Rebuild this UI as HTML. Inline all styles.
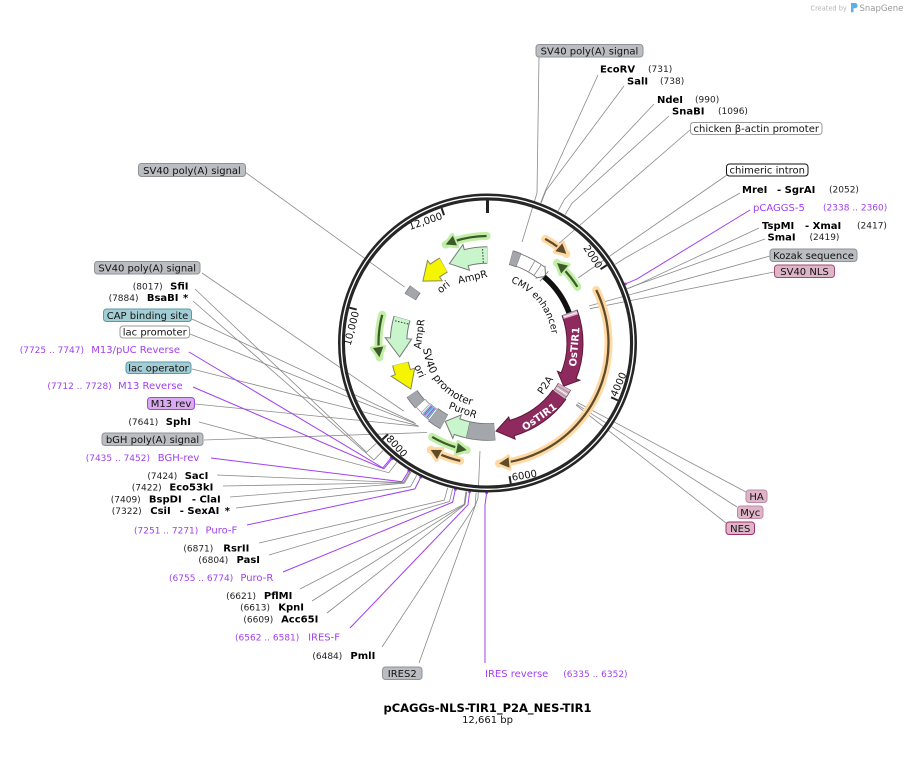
<!DOCTYPE html>
<html><head><meta charset="utf-8">
<style>
html,body{margin:0;padding:0;background:#fff;}
svg{display:block;font-family:"DejaVu Sans","Liberation Sans",sans-serif;}
.n{font-size:9px;fill:#222;}
.b{font-size:10px;font-weight:bold;fill:#000;}
.p{font-size:10px;fill:#a040f0;}
.pn{font-size:9px;fill:#a040f0;}
.l{font-size:10px;fill:#111;}
.t{font-size:10px;fill:#111;}
.ln{stroke:#8a8a8a;stroke-width:0.8;fill:none;}
.lp{stroke:#a040f0;stroke-width:1;fill:none;}
.arc circle{fill:none;}
</style></head><body>
<svg width="908" height="757" viewBox="0 0 908 757">
<defs>
<path id="cmvp" d="M510.79,282.32 A65,65 0 0,1 548.58,365.23"/>
<path id="sv40p" d="M423.2,348.6 A64,64 0 0,0 509.4,403.1"/>
</defs>

<!-- Created by SnapGene -->
<text x="810.5" y="10.5" font-size="6.6" fill="#b4b4b4">Created by</text>
<path d="M851,3 h4 a2.6,2.6 0 0 1 0,5.2 h-1.5 v4 h-2.5 z" fill="#5ab0e8"/>
<text x="859.5" y="11" font-size="8.5" fill="#9a9a9a">SnapGene</text>

<!-- leader lines -->
<g class="ln">
<polyline points="539,57 537,193 522,242"/>
<polyline points="598,75 545.4,190.6 540.7,202.8"/>
<polyline points="624,86 545.9,190.8 541.2,202.9"/>
<polyline points="654,104 564.4,199.3 558.3,210.7"/>
<polyline points="669,116 571.8,203.5 565.1,214.6"/>
<polyline points="690,130 557,245"/>
<polyline points="727,175 578,278"/>
<polyline points="740,193 626.2,257.4 615.2,264.3"/>
<polyline points="759,228 639.4,283.8 627.3,288.6"/>
<polyline points="765,239 639.5,284 627.4,288.7"/>
<polyline points="770,256 589,306"/>
<polyline points="774,272 590,308.7"/>
<polyline points="746,492 577.6,402.6"/>
<polyline points="737,507 576.5,404.2"/>
<polyline points="726,523 576,405"/>
<polyline points="245,172 404.6,287.1"/>
<polyline points="202,273 403.6,411"/>
<polyline points="195,289 366.5,452.2 376.1,443.5"/>
<polyline points="193,301 373.9,459.9 383,450.6"/>
<polyline points="192,319 414.5,422.6"/>
<polyline points="190,334 415.9,423.9"/>
<polyline points="192,369 418.1,425.7"/>
<polyline points="195,404 418.8,426.3"/>
<polyline points="199,422 388.8,472.7 396.7,462.4"/>
<polyline points="204,440 427.1,432.5"/>
<polyline points="217,475 403.3,482.6 410,471.4"/>
<polyline points="223,486 403.5,482.7 410.2,471.5"/>
<polyline points="230,497 404.4,483.2 411,472"/>
<polyline points="236,508 410.5,486.7 416.7,475.2"/>
<polyline points="259,543 444.3,500.2 447.7,487.6"/>
<polyline points="269,555 449.5,501.5 452.6,488.9"/>
<polyline points="300,589 464.1,504.3 465.9,491.4"/>
<polyline points="312,601 464.7,504.4 466.5,491.5"/>
<polyline points="327,613 465,504.5 466.8,491.6"/>
<polyline points="382,647 475.1,505.5 476.1,492.6"/>
<polyline points="419,663 478,498 480,451"/>
</g>
<g class="lp">
<polyline points="750,210 637.3,278.8 625.4,283.9"/>
<polyline points="189,352 382.8,467.9 391.1,458"/>
<polyline points="193,387 383.8,468.8 392.1,458.7"/>
<polyline points="211,458 402,481.8 408.8,470.7"/>
<polyline points="247,525 414.9,488.9 420.7,477.3"/>
<polyline points="283,572 452.6,502.2 455.4,489.5"/>
<polyline points="350,628 468,504.8 469.6,491.9"/>
<polyline points="485,663 485,505 486.6,493"/>
</g>
<g fill="#a040f0">
<circle cx="625.4" cy="283.9" r="1.4"/><circle cx="391.1" cy="458" r="1.4"/><circle cx="392.1" cy="458.7" r="1.4"/>
<circle cx="408.8" cy="470.7" r="1.4"/><circle cx="420.7" cy="477.3" r="1.4"/><circle cx="455.4" cy="489.5" r="1.4"/>
<circle cx="469.6" cy="491.9" r="1.4"/><circle cx="486.6" cy="493" r="1.4"/>
</g>

<!-- ring -->
<circle cx="487.5" cy="343" r="146" fill="none" stroke="#262626" stroke-width="7"/>
<circle cx="487.5" cy="343" r="146.3" fill="none" stroke="#fff" stroke-width="1.3"/>

<!-- ticks -->
<g transform="translate(487.5,343)">
<line x1="0" y1="-143" x2="0" y2="-130" stroke="#222" stroke-width="3"/>
<g transform="rotate(56.87)"><line x1="0" y1="-142.5" x2="0" y2="-135" stroke="#222" stroke-width="2"/><text class="t" x="-2" y="-132" text-anchor="end">2000</text></g>
<g transform="rotate(113.74)"><line x1="0" y1="-142.5" x2="0" y2="-135" stroke="#222" stroke-width="2"/><text class="t" transform="rotate(180)" x="2" y="140" text-anchor="start">4000</text></g>
<g transform="rotate(170.6)"><line x1="0" y1="-142.5" x2="0" y2="-135" stroke="#222" stroke-width="2"/><text class="t" transform="rotate(180)" x="2" y="140" text-anchor="start">6000</text></g>
<g transform="rotate(227.47)"><line x1="0" y1="-142.5" x2="0" y2="-135" stroke="#222" stroke-width="2"/><text class="t" transform="rotate(180)" x="2" y="140" text-anchor="start">8000</text></g>
<g transform="rotate(284.34)"><line x1="0" y1="-142.5" x2="0" y2="-135" stroke="#222" stroke-width="2"/><text class="t" x="-2" y="-132" text-anchor="end">10,000</text></g>
<g transform="rotate(341.21)"><line x1="0" y1="-142.5" x2="0" y2="-135" stroke="#222" stroke-width="2"/><text class="t" x="-2" y="-132" text-anchor="end">12,000</text></g>
</g>

<!-- features -->
<g class="arc" transform="translate(487.5,343)">
<!-- orange / green ORF arrows -->
<circle r="119" stroke="#ffd9a3" stroke-width="8" stroke-linecap="round" stroke-dasharray="25.96 2000" transform="rotate(-61)"/>
<circle r="119" stroke="#5e4b2c" stroke-width="2.3" stroke-dasharray="17.65 2000" transform="rotate(-61)"/>
<g transform="rotate(41.5)"><polygon points="1.5,-119 -10,-112.5 -10,-125.5" fill="#ffd9a3" stroke="#ffd9a3" stroke-width="3.5" stroke-linejoin="round"/><polygon points="0,-119 -10,-113.8 -10,-124.2" fill="#5e4b2c"/></g>

<circle r="121" stroke="#ffd9a3" stroke-width="8" stroke-linecap="round" stroke-dasharray="233.36 2000" transform="rotate(-26)"/>
<circle r="121" stroke="#5e4b2c" stroke-width="2.3" stroke-dasharray="224.91 2000" transform="rotate(-26)"/>
<g transform="rotate(174.5)"><polygon points="1.5,-121 -10,-114.5 -10,-127.5" fill="#ffd9a3" stroke="#ffd9a3" stroke-width="3.5" stroke-linejoin="round"/><polygon points="0,-121 -10,-115.8 -10,-126.2" fill="#5e4b2c"/></g>

<circle r="121" stroke="#ffd9a3" stroke-width="8" stroke-linecap="round" stroke-dasharray="31.68 2000" transform="rotate(103)"/>
<circle r="121" stroke="#5e4b2c" stroke-width="2.3" stroke-dasharray="23.23 2000" transform="rotate(103)"/>
<g transform="rotate(208)"><polygon points="1.5,-121 -10,-114.5 -10,-127.5" fill="#ffd9a3" stroke="#ffd9a3" stroke-width="3.5" stroke-linejoin="round"/><polygon points="0,-121 -10,-115.8 -10,-126.2" fill="#5e4b2c"/></g>

<circle r="106" stroke="#c2efa6" stroke-width="8" stroke-linecap="round" stroke-dasharray="31.45 2000" transform="rotate(-49)"/>
<circle r="106" stroke="#3e5a2c" stroke-width="2.3" stroke-dasharray="24.98 2000" transform="rotate(-45.5)"/>
<g transform="rotate(41)"><polygon points="-1.5,-106 10,-99.5 10,-112.5" fill="#c2efa6" stroke="#c2efa6" stroke-width="3.5" stroke-linejoin="round"/><polygon points="0,-106 10,-100.8 10,-111.2" fill="#3e5a2c"/></g>

<circle r="107" stroke="#c2efa6" stroke-width="8" stroke-linecap="round" stroke-dasharray="42.02 2000" transform="rotate(247)"/>
<circle r="107" stroke="#3e5a2c" stroke-width="2.3" stroke-dasharray="31.93 2000" transform="rotate(252.4)"/>
<g transform="rotate(337)"><polygon points="-1.5,-107 10,-100.5 10,-113.5" fill="#c2efa6" stroke="#c2efa6" stroke-width="3.5" stroke-linejoin="round"/><polygon points="0,-107 10,-101.8 10,-112.2" fill="#3e5a2c"/></g>

<circle r="109" stroke="#c2efa6" stroke-width="8" stroke-linecap="round" stroke-dasharray="42.8 2000" transform="rotate(172.5)"/>
<circle r="109" stroke="#3e5a2c" stroke-width="2.3" stroke-dasharray="32.72 2000" transform="rotate(177.8)"/>
<g transform="rotate(262.5)"><polygon points="-1.5,-109 10,-102.5 10,-115.5" fill="#c2efa6" stroke="#c2efa6" stroke-width="3.5" stroke-linejoin="round"/><polygon points="0,-109 10,-103.8 10,-114.2" fill="#3e5a2c"/></g>

<circle r="109" stroke="#c2efa6" stroke-width="8" stroke-linecap="round" stroke-dasharray="37.1 2000" transform="rotate(101)"/>
<circle r="109" stroke="#3e5a2c" stroke-width="2.3" stroke-dasharray="27.01 2000" transform="rotate(106.3)"/>
<g transform="rotate(191)"><polygon points="-1.5,-109 10,-102.5 10,-115.5" fill="#c2efa6" stroke="#c2efa6" stroke-width="3.5" stroke-linejoin="round"/><polygon points="0,-109 10,-103.8 10,-114.2" fill="#3e5a2c"/></g>

<!-- CMV white arrow -->
<circle r="88.5" stroke="#777" stroke-width="14" stroke-dasharray="25.8 2000" transform="rotate(-69.5)"/>
<g transform="rotate(37)"><polygon points="0,-95.5 6.2,-88.3 0,-81.5" fill="#fff" stroke="#777" stroke-width="1"/></g>
<circle r="88.5" stroke="#fff" stroke-width="12.2" stroke-dasharray="25.64 2000" transform="rotate(-69.3)"/>
<g transform="rotate(30)"><line y1="-82.5" y2="-94.5" stroke="#888" stroke-width="0.8"/></g>
<g transform="rotate(34.5)"><line y1="-82.5" y2="-94.5" stroke="#888" stroke-width="0.8"/></g>
<!-- CMV gray box -->
<circle r="88.5" stroke="#6d7074" stroke-width="15" stroke-dasharray="8.34 2000" transform="rotate(-74.7)"/>
<circle r="88.5" stroke="#a3a7ab" stroke-width="13.5" stroke-dasharray="7.72 2000" transform="rotate(-74.5)"/>
<!-- black arc -->
<circle r="87" stroke="#111" stroke-width="5.5" stroke-dasharray="44.79 2000" transform="rotate(-49.5)"/>
<g transform="rotate(40.3)"><line y1="-81" y2="-94" stroke="#777" stroke-width="0.8"/></g>

<!-- OsTIR1 #1 -->
<circle r="87.5" stroke="#5c1838" stroke-width="17" stroke-dasharray="65.21 2000" transform="rotate(-20.4)"/>
<g transform="rotate(112)"><polygon points="0,-99.5 11.4,-86.8 0,-75.5" fill="#8e2a5e" stroke="#5c1838" stroke-width="1"/></g>
<circle r="87.5" stroke="#8e2a5e" stroke-width="15" stroke-dasharray="65.06 2000" transform="rotate(-20)"/>
<circle r="87.5" stroke="#e0b3c9" stroke-width="15" stroke-dasharray="3.82 2000" transform="rotate(-20)"/>
<g transform="rotate(71.2)"><line y1="-80.5" y2="-94.5" stroke="#fff" stroke-width="0.8"/></g>
<g transform="rotate(69.8)"><line y1="-80" y2="-95" stroke="#888" stroke-width="0.8"/></g>

<!-- OsTIR1 #2 -->
<circle r="88.5" stroke="#5c1838" stroke-width="17" stroke-dasharray="59.78 2000" transform="rotate(35.6)"/>
<g transform="rotate(164)"><polygon points="0,-100 16.1,-87 0,-77" fill="#8e2a5e" stroke="#5c1838" stroke-width="1"/></g>
<circle r="88.5" stroke="#8e2a5e" stroke-width="15" stroke-dasharray="59.62 2000" transform="rotate(36)"/>
<!-- P2A band -->
<circle r="88.5" stroke="#6b4a5a" stroke-width="15" stroke-dasharray="10.04 2000" transform="rotate(29.5)"/>
<circle r="88.5" stroke="#dcb6c8" stroke-width="13.5" stroke-dasharray="9.4 2000" transform="rotate(29.7)"/>
<g transform="rotate(121.5)"><line y1="-82" y2="-95" stroke="#888" stroke-width="0.8"/></g>
<g transform="rotate(123)"><line y1="-82" y2="-95" stroke="#fff" stroke-width="0.8"/></g>
<g transform="rotate(124.5)"><line y1="-82" y2="-95" stroke="#888" stroke-width="0.8"/></g>

<!-- PuroR -->
<circle r="89" stroke="#7a7a7a" stroke-width="17.5" stroke-dasharray="12.12 2000" transform="rotate(102.5)"/>
<g transform="rotate(200)"><polygon points="0,-101.5 12.9,-88.1 0,-76.5" fill="#c8f5cc" stroke="#7a7a7a" stroke-width="1"/></g>
<circle r="89" stroke="#c8f5cc" stroke-width="15.5" stroke-dasharray="12.12 2000" transform="rotate(102.8)"/>
<!-- IRES2 gray -->
<circle r="89" stroke="#6d7074" stroke-width="17.5" stroke-dasharray="27.03 2000" transform="rotate(85.3)"/>
<circle r="89" stroke="#a3a7ab" stroke-width="16" stroke-dasharray="26.41 2000" transform="rotate(85.5)"/>

<!-- SV40 region -->
<circle r="90" stroke="#6d7074" stroke-width="16.5" stroke-dasharray="13.19 2000" transform="rotate(118.8)"/>
<circle r="90" stroke="#a3a7ab" stroke-width="15" stroke-dasharray="12.57 2000" transform="rotate(119)"/>
<circle r="90" stroke="#888" stroke-width="14" stroke-dasharray="10.21 2000" transform="rotate(127)"/>
<circle r="90" stroke="#fff" stroke-width="12.5" stroke-dasharray="9.58 2000" transform="rotate(127.2)"/>
<g stroke-width="1.1">
<line transform="rotate(218.3)" y1="-84" y2="-96" stroke="#3aa0b8"/>
<line transform="rotate(219.2)" y1="-84" y2="-96" stroke="#a040e0"/>
<line transform="rotate(220)" y1="-84" y2="-96" stroke="#70c8d8"/>
<line transform="rotate(220.8)" y1="-84" y2="-96" stroke="#3aa0b8"/>
<line transform="rotate(221.6)" y1="-84" y2="-96" stroke="#a040e0"/>
<line transform="rotate(222.4)" y1="-84" y2="-96" stroke="#70c8d8"/>
</g>
<circle r="90" stroke="#888" stroke-width="12.5" stroke-dasharray="7.07 2000" transform="rotate(133.5)"/>
<circle r="90" stroke="#fff" stroke-width="11" stroke-dasharray="6.5 2000" transform="rotate(133.7)"/>
<circle r="91" stroke="#6d7074" stroke-width="13" stroke-dasharray="13.02 2000" transform="rotate(137.9)"/>
<circle r="91" stroke="#a3a7ab" stroke-width="11.5" stroke-dasharray="12.71 2000" transform="rotate(138)"/>

<!-- ori left -->
<circle r="89.5" stroke="#8a8a5a" stroke-width="17" stroke-dasharray="9.37 2000" transform="rotate(160.7)"/>
<g transform="rotate(251)"><polygon points="0,-102 -18.6,-87.5 0,-77" fill="#f5f500" stroke="#8a8a5a" stroke-width="1"/></g>
<circle r="89.5" stroke="#f5f500" stroke-width="15" stroke-dasharray="9.53 2000" transform="rotate(160.4)"/>

<!-- AmpR left -->
<circle r="89" stroke="#777" stroke-width="17.5" stroke-dasharray="20.97 2000" transform="rotate(182.7)"/>
<g transform="rotate(273)"><polygon points="0,-102.5 -18.5,-87 0,-76" fill="#c8f5cc" stroke="#777" stroke-width="1"/></g>
<circle r="89" stroke="#c8f5cc" stroke-width="15.5" stroke-dasharray="21.13 2000" transform="rotate(182.4)"/>
<g transform="rotate(283.5)"><line y1="-81.5" y2="-96.5" stroke="#333" stroke-width="1" stroke-dasharray="1.5 1.5"/></g>

<!-- gray box top -->
<circle r="90" stroke="#6d7074" stroke-width="13" stroke-dasharray="9.27 2000" transform="rotate(210.8)"/>
<circle r="90" stroke="#a3a7ab" stroke-width="11.5" stroke-dasharray="8.64 2000" transform="rotate(211)"/>

<!-- ori top -->
<circle r="89.5" stroke="#8a8a5a" stroke-width="17" stroke-dasharray="10.93 2000" transform="rotate(233.7)"/>
<g transform="rotate(324)"><polygon points="0,-102 -15.9,-88.1 0,-77" fill="#f5f500" stroke="#8a8a5a" stroke-width="1"/></g>
<circle r="89.5" stroke="#f5f500" stroke-width="15" stroke-dasharray="11.09 2000" transform="rotate(233.4)"/>

<!-- AmpR top -->
<circle r="88" stroke="#777" stroke-width="17.5" stroke-dasharray="21.81 2000" transform="rotate(255.7)"/>
<g transform="rotate(346)"><polygon points="0,-101.5 -17.8,-86.2 0,-75" fill="#c8f5cc" stroke="#777" stroke-width="1"/></g>
<circle r="88" stroke="#c8f5cc" stroke-width="15.5" stroke-dasharray="21.96 2000" transform="rotate(255.4)"/>
<g transform="rotate(357)"><line y1="-80.5" y2="-95.5" stroke="#333" stroke-width="1" stroke-dasharray="1.5 1.5"/></g>
</g>

<!-- inner feature labels -->
<text font-size="9.5" fill="#111"><textPath href="#cmvp">CMV enhancer</textPath></text>
<text font-size="10.5" fill="#111"><textPath href="#sv40p">SV40 promoter</textPath></text>
<text transform="translate(574.2,346.7) rotate(-85)" y="3.6" text-anchor="middle" font-size="10" font-weight="bold" fill="#fff">OsTIR1</text>
<text transform="translate(539.2,416.7) rotate(-35)" y="3.6" text-anchor="middle" font-size="10" font-weight="bold" fill="#fff">OsTIR1</text>
<text transform="translate(545,385) rotate(-55)" y="3.6" text-anchor="middle" class="l">P2A</text>
<text transform="translate(463,410) rotate(20)" y="3.6" text-anchor="middle" class="l">PuroR</text>
<text transform="translate(419,334) rotate(-82.5)" y="3.6" text-anchor="middle" class="l">AmpR</text>
<text transform="translate(420,371) rotate(67.5)" y="3.6" text-anchor="middle" class="l">ori</text>
<text transform="translate(443.3,286.7) rotate(-38.5)" y="3.6" text-anchor="middle" class="l">ori</text>
<text transform="translate(472.5,276.7) rotate(-13.2)" y="3.6" text-anchor="middle" class="l">AmpR</text>

<!-- label boxes -->
<g stroke-width="1">
<rect x="94.5" y="261.5" width="105.5" height="12.5" rx="3" fill="#babdc1" stroke="#8f9296"/>
<rect x="103.5" y="309" width="88" height="12.5" rx="3" fill="#a2cdd4" stroke="#5a9aa6"/>
<rect x="120" y="326" width="69.5" height="12" rx="3" fill="#fff" stroke="#999"/>
<rect x="126" y="362" width="65" height="11.5" rx="3" fill="#a2cdd4" stroke="#5a9aa6"/>
<rect x="147.5" y="397.5" width="47" height="12" rx="3" fill="#d9aaf0" stroke="#9b4fc9"/>
<rect x="102" y="433" width="101" height="12.5" rx="3" fill="#babdc1" stroke="#8f9296"/>
<rect x="382.5" y="667" width="39.5" height="12.5" rx="3" fill="#babdc1" stroke="#8f9296"/>
<rect x="536" y="44.5" width="107" height="12.5" rx="3" fill="#babdc1" stroke="#8f9296"/>
<rect x="690.5" y="122.5" width="131.5" height="12" rx="3" fill="#fff" stroke="#999"/>
<rect x="726.5" y="164" width="81.5" height="12" rx="3" fill="#fff" stroke="#111"/>
<rect x="770" y="249" width="87" height="12.5" rx="3" fill="#babdc1" stroke="#8f9296"/>
<rect x="774.5" y="265" width="60" height="12.5" rx="3" fill="#deb4c8" stroke="#a54a76"/>
<rect x="746" y="490" width="21" height="12.5" rx="3" fill="#deb4c8" stroke="#c08aa4"/>
<rect x="737.5" y="506" width="25.5" height="12.5" rx="3" fill="#deb4c8" stroke="#c08aa4"/>
<rect x="726" y="522" width="28.5" height="12.5" rx="3" fill="#deb4c8" stroke="#a0306a"/>
<rect x="138.5" y="163.5" width="107" height="13" rx="3" fill="#babdc1" stroke="#8f9296"/>
</g>
<g class="l" text-anchor="middle">
<text x="147.25" y="271.5">SV40 poly(A) signal</text>
<text x="147.5" y="319">CAP binding site</text>
<text x="154.75" y="335.5">lac promoter</text>
<text x="158.5" y="371.3">lac operator</text>
<text x="171" y="407">M13 rev</text>
<text x="152.5" y="443">bGH poly(A) signal</text>
<text x="402.25" y="677">IRES2</text>
<text x="589.5" y="54.5">SV40 poly(A) signal</text>
<text x="756.25" y="132">chicken β-actin promoter</text>
<text x="767.25" y="173.5">chimeric intron</text>
<text x="813.5" y="259">Kozak sequence</text>
<text x="804.5" y="275">SV40 NLS</text>
<text x="756.5" y="500">HA</text>
<text x="750.25" y="516">Myc</text>
<text x="740.25" y="532">NES</text>
<text x="192" y="174">SV40 poly(A) signal</text>
</g>

<!-- top-right enzyme/primer labels -->
<text class="b" x="600" y="72.5">EcoRV</text><text class="n" x="648" y="72">(731)</text>
<text class="b" x="627" y="84.5">SalI</text><text class="n" x="660" y="84">(738)</text>
<text class="b" x="657" y="103">NdeI</text><text class="n" x="695" y="102.5">(990)</text>
<text class="b" x="672" y="114.5">SnaBI</text><text class="n" x="718" y="114">(1096)</text>
<text class="b" x="742" y="193">MreI</text><text class="b" x="777" y="193">- SgrAI</text><text class="n" x="829" y="192.5">(2052)</text>
<text class="p" x="753" y="211">pCAGGS-5</text><text class="pn" x="823" y="210.5">(2338 .. 2360)</text>
<text class="b" x="762" y="229">TspMI</text><text class="b" x="805" y="229">- XmaI</text><text class="n" x="857" y="228.5">(2417)</text>
<text class="b" x="767.5" y="240.5">SmaI</text><text class="n" x="809.5" y="240">(2419)</text>

<!-- left labels -->
<g text-anchor="end">
<text class="n" x="162.7" y="289.5">(8017)</text><text class="b" x="188.5" y="289.5">SfiI</text>
<text class="n" x="138.5" y="301">(7884)</text><text class="b" x="178.5" y="301">BsaBI</text>
<text class="pn" x="84" y="353">(7725 .. 7747)</text><text class="p" x="180" y="353">M13/pUC Reverse</text>
<text class="pn" x="111.7" y="389">(7712 .. 7728)</text><text class="p" x="182.7" y="389">M13 Reverse</text>
<text class="n" x="158.3" y="425">(7641)</text><text class="b" x="191" y="425">SphI</text>
<text class="pn" x="150" y="461">(7435 .. 7452)</text><text class="p" x="199.3" y="461">BGH-rev</text>
<text class="n" x="177.3" y="479">(7424)</text><text class="b" x="208.3" y="479">SacI</text>
<text class="n" x="161.7" y="490.5">(7422)</text><text class="b" x="213.3" y="490.5">Eco53kI</text>
<text class="n" x="140.7" y="502.5">(7409)</text><text class="b" x="181.7" y="502.5">BspDI</text><text class="b" x="220.7" y="502.5">- ClaI</text>
<text class="n" x="141.7" y="514">(7322)</text><text class="b" x="170.7" y="514">CsiI</text><text class="b" x="219.3" y="514">- SexAI</text><text class="b" x="230" y="514">*</text>
<text class="pn" x="198.3" y="533.5">(7251 .. 7271)</text><text class="p" x="237.3" y="533.5">Puro-F</text>
<text class="n" x="213.3" y="551.5">(6871)</text><text class="b" x="249.3" y="551.5">RsrII</text>
<text class="n" x="228.3" y="563">(6804)</text><text class="b" x="260" y="563">PasI</text>
<text class="pn" x="233.3" y="581">(6755 .. 6774)</text><text class="p" x="273.3" y="581">Puro-R</text>
<text class="n" x="256" y="599">(6621)</text><text class="b" x="292.3" y="599">PflMI</text>
<text class="n" x="270" y="610.5">(6613)</text><text class="b" x="304" y="610.5">KpnI</text>
<text class="n" x="273.3" y="622.5">(6609)</text><text class="b" x="318.3" y="622.5">Acc65I</text>
<text class="pn" x="299.3" y="640.5">(6562 .. 6581)</text><text class="p" x="340" y="640.5">IRES-F</text>
<text class="n" x="342.3" y="659">(6484)</text><text class="b" x="375.3" y="659">PmlI</text>
</g>
<text class="b" x="183" y="301">*</text>
<text class="p" x="485" y="677">IRES reverse</text><text class="pn" x="563.3" y="677">(6335 .. 6352)</text>

<!-- title -->
<text x="487.5" y="712" text-anchor="middle" font-size="11.5" font-weight="bold" fill="#000">pCAGGs-NLS-TIR1_P2A_NES-TIR1</text>
<text x="487.5" y="723" text-anchor="middle" font-size="10" fill="#111">12,661 bp</text>
</svg>
</body></html>
